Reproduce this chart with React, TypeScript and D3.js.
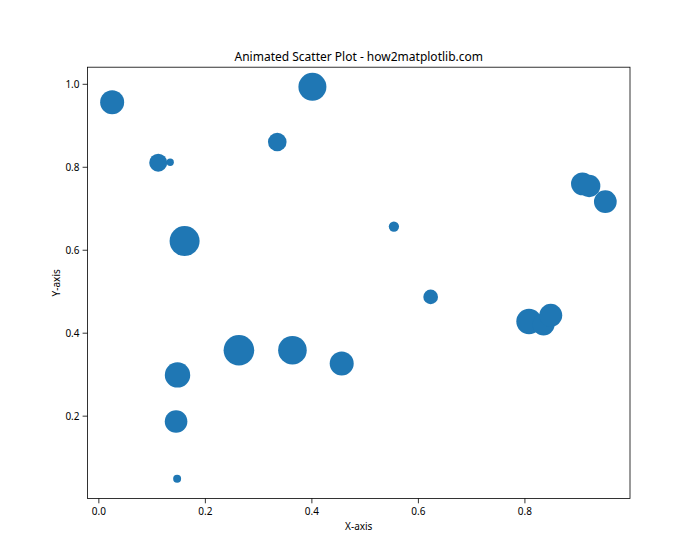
import React from "react";
import * as d3 from "d3";

const xs = [0.025, 0.1115, 0.134, 0.161, 0.335, 0.401, 0.554, 0.623, 0.908, 0.9206, 0.951, 0.8077, 0.835, 0.8485, 0.263, 0.3635, 0.456, 0.1477, 0.145, 0.147];
const ys = [0.957, 0.811, 0.812, 0.622, 0.861, 0.994, 0.657, 0.4875, 0.760, 0.755, 0.717, 0.428, 0.421, 0.443, 0.359, 0.359, 0.327, 0.2995, 0.187, 0.049];
const sizes = [299, 168, 28, 467, 179, 406, 55, 112, 270, 260, 268, 335, 251, 274, 485, 424, 299, 335, 265, 33];
const xTicks = [0.0, 0.2, 0.4, 0.6, 0.8];
const yTicks = [0.2, 0.4, 0.6, 0.8, 1.0];

const W = 700, H = 560;
const L = 87.5, R = 630, T = 67.2, B = 498.4;
const FONT = "'Noto Sans', sans-serif";

export default function App() {
  const xMin = d3.min(xs)!, xMax = d3.max(xs)!;
  const yMin = d3.min(ys)!, yMax = d3.max(ys)!;
  const xPad = (xMax - xMin) * 0.05, yPad = (yMax - yMin) * 0.05;
  const x = d3.scaleLinear().domain([xMin - xPad, xMax + xPad]).range([L, R]);
  const y = d3.scaleLinear().domain([yMin - yPad, yMax + yPad]).range([B, T]);
  const rScale = (s: number) => (Math.sqrt(s) / 2) * (100 / 72);
  const pts = xs.map((v, i) => ({ x: v, y: ys[i], s: sizes[i] }));
  return (
    <svg width={W} height={H} style={{ display: "block", margin: -8 }} fontFamily={FONT}>
      <rect width={W} height={H} fill="#fff" />
      <g>
        {pts.map((p, i) => (
          <circle key={i} cx={x(p.x)} cy={y(p.y)} r={rScale(p.s)} fill="#1f77b4" />
        ))}
      </g>
      <rect x={L} y={T} width={R - L} height={B - T} fill="none" stroke="#000" strokeWidth={0.8} />
      {xTicks.map((t) => (
        <g key={"x" + t}>
          <line x1={x(t)} x2={x(t)} y1={B} y2={B + 4.9} stroke="#000" strokeWidth={0.8} />
          <text x={x(t)} y={B + 17} textAnchor="middle" fontSize={10} fill="#000">
            {t.toFixed(1)}
          </text>
        </g>
      ))}
      {yTicks.map((t) => (
        <g key={"y" + t}>
          <line x1={L - 4.9} x2={L} y1={y(t)} y2={y(t)} stroke="#000" strokeWidth={0.8} />
          <text x={L - 8} y={y(t) + 3.5} textAnchor="end" fontSize={10} fill="#000">
            {t.toFixed(1)}
          </text>
        </g>
      ))}
      <text x={(L + R) / 2} y={530} textAnchor="middle" fontSize={10} fill="#000">X-axis</text>
      <text transform={`translate(60,${(T + B) / 2}) rotate(-90)`} textAnchor="middle" fontSize={10} fill="#000">Y-axis</text>
      <text x={(L + R) / 2} y={61} textAnchor="middle" fontSize={12} fill="#000">
        Animated Scatter Plot - how2matplotlib.com
      </text>
    </svg>
  );
}
